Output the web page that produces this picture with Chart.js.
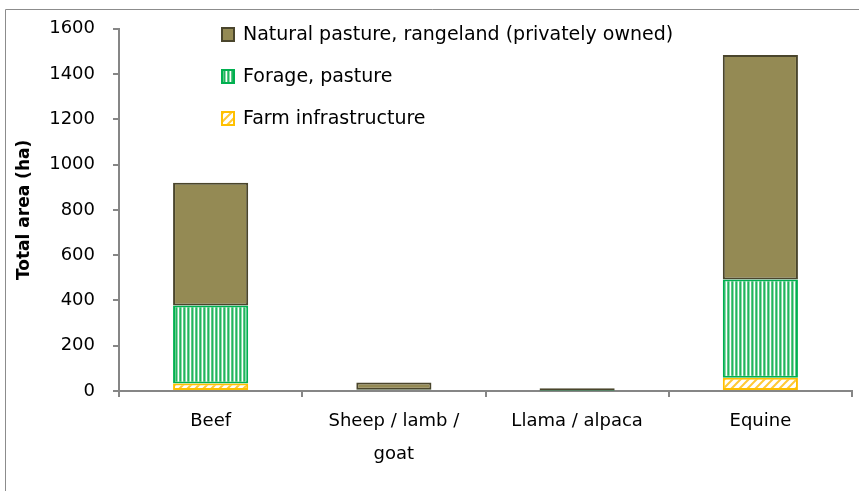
<!DOCTYPE html>
<html>
<head>
<meta charset="utf-8">
<script src="https://cdn.jsdelivr.net/npm/chart.js@4.4.1/dist/chart.umd.min.js"></script>
<style>
  html, body { margin: 0; padding: 0; background: #fff; }
  #wrap { width: 859px; height: 491px; position: relative; }
</style>
</head>
<body>
<div id="wrap"><canvas id="landChart"></canvas></div>
<script>
const categories = [["Beef"], ["Sheep / lamb /", "goat"], ["Llama / alpaca"], ["Equine"]];
const farmInfrastructure = [33, 0, 0, 58];
const foragePasture = [345, 5, 2, 434];
const naturalPasture = [542, 32, 10, 992];
const yTicks = [0, 200, 400, 600, 800, 1000, 1200, 1400, 1600];

const FONT = "'DejaVu Sans', sans-serif";

function makeStripes() {
  const c = document.createElement("canvas");
  c.width = 4; c.height = 4;
  const g = c.getContext("2d");
  const cols = ["#22b55e", "#8ddcae", "#ffffff", "#5cc987"];
  cols.forEach((col, i) => { g.fillStyle = col; g.fillRect(i, 0, 1, 4); });
  return g.createPattern(c, "repeat");
}

function makeHatch() {
  const c = document.createElement("canvas");
  c.width = 8; c.height = 8;
  const g = c.getContext("2d");
  g.fillStyle = "#ffffff";
  g.fillRect(0, 0, 8, 8);
  g.strokeStyle = "#ffc936";
  g.lineWidth = 2;
  g.beginPath();
  g.moveTo(-2, 10); g.lineTo(10, -2);
  g.moveTo(-6, 6); g.lineTo(6, -6);
  g.moveTo(2, 14); g.lineTo(14, 2);
  g.stroke();
  return g.createPattern(c, "repeat");
}

const stripes = makeStripes();
const hatch = makeHatch();

// legend drawn inside the plot, top to bottom = top stack to bottom stack
const insideLegend = {
  id: "insideLegend",
  afterDraw(chart) {
    const ctx = chart.ctx;
    const ds = chart.data.datasets.slice().reverse();
    ctx.save();
    ctx.font = "19px " + FONT;
    ctx.textBaseline = "middle";
    ds.forEach((d, i) => {
      const y = 34 + i * 42;
      const x = 222;
      ctx.fillStyle = d.backgroundColor;
      ctx.fillRect(x, y - 6, 12, 13);
      ctx.strokeStyle = d.borderColor;
      ctx.lineWidth = 2;
      ctx.strokeRect(x, y - 6, 12, 13);
      ctx.fillStyle = "#000";
      ctx.fillText(d.label, 243, y + 1);
    });
    ctx.restore();
  }
};

const outerFrame = {
  id: "outerFrame",
  afterDraw(chart) {
    const ctx = chart.ctx;
    ctx.save();
    ctx.strokeStyle = "#8c8c8c";
    ctx.lineWidth = 1;
    ctx.beginPath();
    ctx.moveTo(5.5, 491);
    ctx.lineTo(5.5, 9.5);
    ctx.lineTo(859, 9.5);
    ctx.stroke();
    ctx.restore();
  }
};

new Chart(document.getElementById("landChart"), {
  type: "bar",
  data: {
    labels: categories,
    datasets: [
      {
        label: "Farm infrastructure",
        data: farmInfrastructure,
        backgroundColor: hatch,
        borderColor: "#ffc000",
        borderWidth: 2,
        borderSkipped: false
      },
      {
        label: "Forage, pasture",
        data: foragePasture,
        backgroundColor: stripes,
        borderColor: "#00b050",
        borderWidth: 2,
        borderSkipped: false
      },
      {
        label: "Natural pasture, rangeland (privately owned)",
        data: naturalPasture,
        backgroundColor: "#948a54",
        borderColor: "#4a452c",
        borderWidth: 2,
        borderSkipped: false
      }
    ]
  },
  options: {
    responsive: true,
    maintainAspectRatio: false,
    animation: false,
    layout: { padding: { top: 28, right: 7, left: 8, bottom: 0 } },
    datasets: { bar: { barPercentage: 0.41, categoryPercentage: 1 } },
    plugins: {
      legend: { display: false },
      tooltip: { enabled: false }
    },
    scales: {
      x: {
        stacked: true,
        afterFit(scale) { scale.height = 100; },
        border: { color: "#868686", width: 2 },
        grid: { drawOnChartArea: false, color: "#868686", lineWidth: 2, tickLength: 6 },
        ticks: { color: "#000", padding: 8, maxRotation: 0, autoSkip: false, font: { family: FONT, size: 18, lineHeight: 1.83 } }
      },
      y: {
        stacked: true,
        min: 0,
        max: 1600,
        afterFit(scale) { scale.width = 111; },
        afterBuildTicks(scale) { scale.ticks = yTicks.map((v) => ({ value: v })); },
        border: { color: "#868686", width: 2 },
        grid: { drawOnChartArea: false, color: "#868686", lineWidth: 2, tickLength: 6 },
        ticks: { color: "#000", padding: 18, font: { family: FONT, size: 18 }, callback: (v) => String(v) },
        title: {
          display: true,
          text: "Total area (ha)",
          color: "#000",
          padding: { top: 6, bottom: 0 },
          font: { family: FONT, size: 17, weight: "bold" }
        }
      }
    }
  },
  plugins: [insideLegend, outerFrame]
});
</script>
</body>
</html>
